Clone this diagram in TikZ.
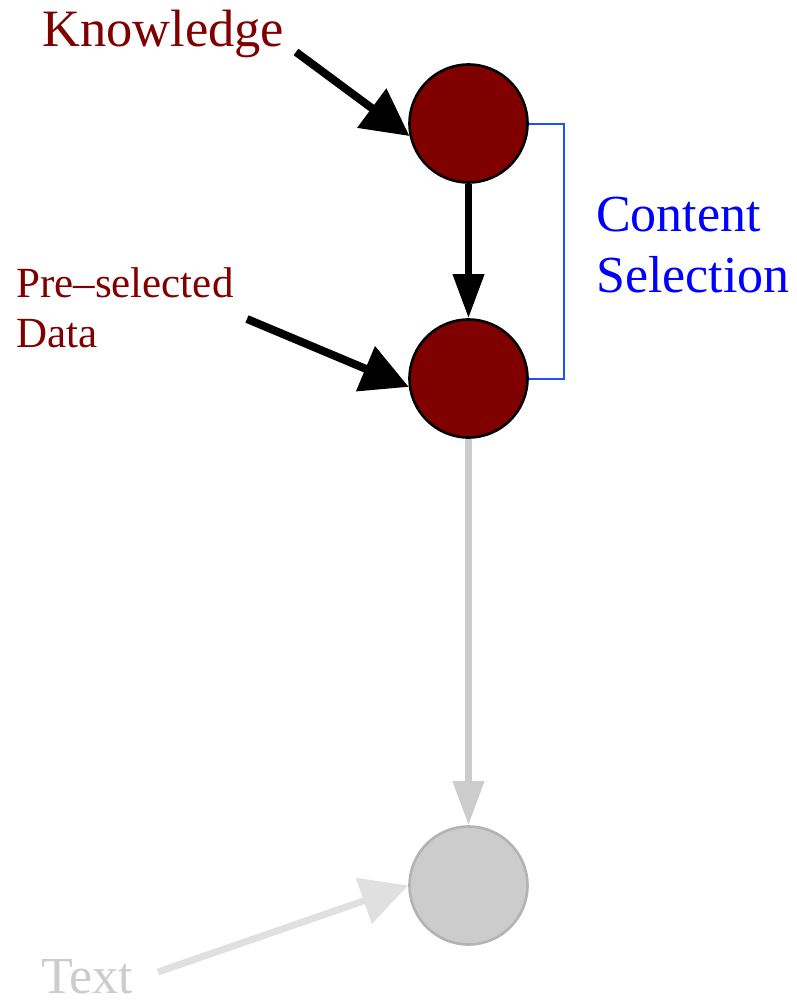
\documentclass[tikz,border=0pt]{standalone}
\usepackage{fontspec}
\setmainfont{Liberation Serif}
\usetikzlibrary{arrows.meta}
\definecolor{maroon}{HTML}{800000}
\definecolor{faded}{HTML}{CCCCCC}
\definecolor{fadedrim}{HTML}{B3B3B3}
\definecolor{fainter}{HTML}{E0E0E0}
\definecolor{bracketblue}{HTML}{1E50FF}
\tikzset{
  var/.style={circle, draw=black, fill=maroon, line width=2.6pt, minimum size=118pt, inner sep=0pt},
  ghostvar/.style={var, draw=fadedrim, fill=faded},
  slant/.style={line width=8pt, -{Triangle[length=47pt,width=47pt]}},
  down/.style={line width=7pt, -{Triangle[length=44pt,width=30pt]}},
  label/.style={inner sep=0pt, anchor=base west, align=left},
}
\begin{document}
\begin{tikzpicture}[x=1pt, y=-1pt]
  \useasboundingbox (0,0) rectangle (797,1002);

  % variables
  \node[var] (know) at (468.5,123.5) {};
  \node[var] (sel) at (468.5,378.5) {};
  \node[ghostvar] (txt) at (468.5,885.5) {};

  % labels (multi-line labels sit on the baseline of their last line)
  \node[label, text=maroon, font=\fontsize{52.5}{60}\selectfont] (knowlbl) at (42,46) {Knowledge};
  \node[label, text=maroon, font=\fontsize{43}{50}\selectfont] (prelbl) at (16,347) {Pre--selected\\Data};
  \node[label, text=blue, font=\fontsize{52}{61}\selectfont] (cslbl) at (596,292) {Content\\Selection};
  \node[label, text=faded, font=\fontsize{52}{60}\selectfont] (txtlbl) at (41,993) {Text};

  % arrow tails
  \coordinate (knowtail) at (296,52);
  \coordinate (pretail) at (247,319);
  \coordinate (txttail) at (158,972);

  % connectors
  \draw[slant] (knowtail) -- (know.192);
  \draw[slant] (pretail) -- (sel.188);
  \draw[down] (know.south) -- (sel.north);
  \draw[down, draw=faded, fill=faded] (sel.south) -- (txt.north);
  \draw[slant, line width=7pt, draw=fainter, fill=fainter] (txttail) -- (txt.west);

  % bracket grouping the content selection steps
  \draw[bracketblue, line width=2pt] (know.east) -- (know.east -| 564,0) -- (sel.east -| 564,0) -- (sel.east);
\end{tikzpicture}
\end{document}
